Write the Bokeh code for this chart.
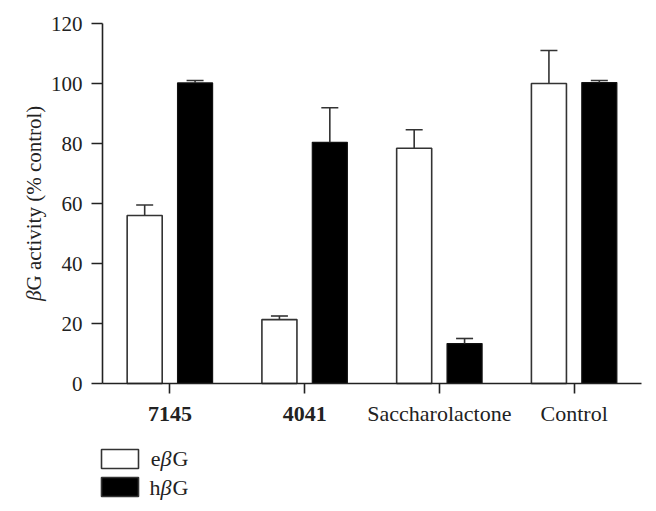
import math
from bokeh.plotting import figure
from bokeh.models import (ColumnDataSource, Range1d, FixedTicker, Whisker, TeeHead,
                          Label, LinearAxis)
from bokeh.embed import file_html
from bokeh.resources import INLINE

categories = ["7145", "4041", "Saccharolactone", "Control"]
bold_cats = [True, True, False, False]
e_vals = [56, 21.3, 78.4, 100]
e_err = [3.5, 1.2, 6.2, 11]
h_vals = [100.2, 80.4, 13.3, 100.3]
h_err = [0.8, 11.5, 1.7, 0.7]
y_ticks = [0, 20, 40, 60, 80, 100, 120]
series_names = ["e", "h"]

SERIF = "Liberation Serif"
INK = "#222222"

W, H = 648, 507
PX_X = 134.75   # px per category unit
PX_Y = 3.0      # px per % unit
X0, Y0 = 102, 383   # pixel position of data origin

centers = [i + 0.5 for i in range(len(categories))]
off = 0.187
bw = 0.26

src_e = ColumnDataSource(dict(x=[c - off for c in centers], top=e_vals,
                              up=[v + e for v, e in zip(e_vals, e_err)]))
src_h = ColumnDataSource(dict(x=[c + off for c in centers], top=h_vals,
                              up=[v + e for v, e in zip(h_vals, h_err)]))

p = figure(width=W, height=H, output_backend="svg", toolbar_location=None,
           x_range=Range1d(-X0 / PX_X, (W - X0) / PX_X),
           y_range=Range1d(-(H - Y0) / PX_Y, Y0 / PX_Y),
           x_axis_location=None, y_axis_location=None,
           min_border=0, min_border_left=0, min_border_right=0,
           min_border_top=0, min_border_bottom=0)
p.outline_line_color = None
p.xgrid.visible = False
p.ygrid.visible = False
p.background_fill_color = "white"
p.border_fill_color = "white"

p.vbar(x="x", top="top", width=bw, source=src_e, fill_color="white",
       line_color="#333333", line_width=1.6)
p.vbar(x="x", top="top", width=bw, source=src_h, fill_color="black",
       line_color="#111111", line_width=1.2)

for src in (src_e, src_h):
    w = Whisker(base="x", lower="top", upper="up", source=src,
                line_color="#333333", line_width=1.6,
                upper_head=TeeHead(size=17, line_color="#333333", line_width=1.6),
                lower_head=None, level="overlay")
    p.add_layout(w)

yaxis = LinearAxis(fixed_location=0, bounds=(0, 120), ticker=FixedTicker(ticks=y_ticks))
yaxis.major_label_text_font = SERIF
yaxis.major_label_text_font_size = "21px"
yaxis.major_label_text_color = INK
yaxis.major_tick_out = 11
yaxis.major_tick_in = 0
yaxis.minor_tick_out = 0
yaxis.minor_tick_in = 0
yaxis.major_label_standoff = 9
yaxis.axis_line_width = 1.6
yaxis.axis_line_color = INK
yaxis.major_tick_line_width = 1.6
yaxis.major_tick_line_color = INK
p.add_layout(yaxis, "left")

xaxis = LinearAxis(fixed_location=0, bounds=(0, 4), ticker=FixedTicker(ticks=centers))
xaxis.major_label_overrides = {c: "" for c in centers}
xaxis.major_tick_out = 10
xaxis.major_tick_in = 0
xaxis.minor_tick_out = 0
xaxis.minor_tick_in = 0
xaxis.axis_line_width = 1.6
xaxis.axis_line_color = INK
xaxis.major_tick_line_width = 1.6
xaxis.major_tick_line_color = INK
p.add_layout(xaxis, "below")

# category labels (mixed bold / normal)
for c, name, b in zip(centers, categories, bold_cats):
    p.add_layout(Label(x=c, y=0, y_offset=-30, text=name, text_align="center",
                       text_baseline="middle", text_font=SERIF,
                       text_font_size="22px", text_color=INK,
                       text_font_style="bold" if b else "normal"))

# y-axis title with italic beta
p.add_layout(Label(x=0, y=31, x_offset=-69, text="β", angle=math.pi / 2,
                   text_align="right", text_baseline="middle", text_font=SERIF,
                   text_font_size="21px", text_font_style="italic", text_color=INK))
p.add_layout(Label(x=0, y=31, x_offset=-69, text="G activity (% control)",
                   angle=math.pi / 2, text_align="left", text_baseline="middle",
                   text_font=SERIF, text_font_size="21px", text_color=INK))

# legend
leg_src = ColumnDataSource(dict(x=[17.5 / PX_X, 17.5 / PX_X], y=[-25.17, -34.5],
                                fill=["white", "black"]))
p.rect(x="x", y="y", width=37, height=19, width_units="screen",
       height_units="screen", source=leg_src, fill_color="fill",
       line_color="#333333", line_width=1.6)
for yy, first in zip((-25.0, -34.7), series_names):
    p.add_layout(Label(x=0, y=yy, x_offset=58, text=first, text_align="right",
                       text_baseline="middle", text_font=SERIF,
                       text_font_size="22px", text_color=INK))
    p.add_layout(Label(x=0, y=yy, x_offset=58, text="β", text_align="left",
                       text_baseline="middle", text_font=SERIF,
                       text_font_size="22px", text_font_style="italic",
                       text_color=INK))
    p.add_layout(Label(x=0, y=yy, x_offset=70, text="G", text_align="left",
                       text_baseline="middle", text_font=SERIF,
                       text_font_size="22px", text_color=INK))

open("out.html", "w").write(file_html(p, INLINE))
